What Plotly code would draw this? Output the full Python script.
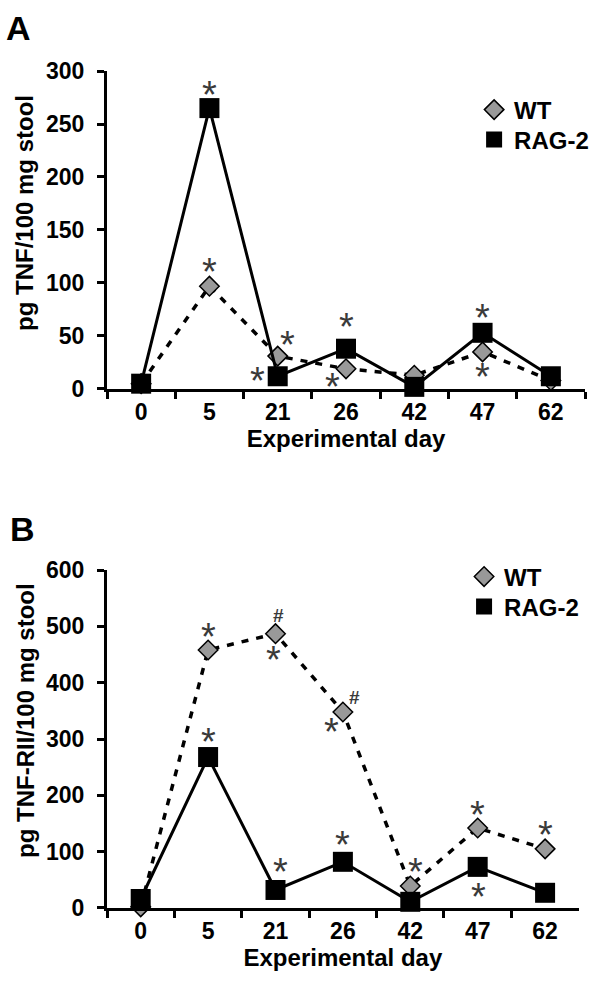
import plotly.graph_objects as go

# ---------------- data ----------------
days = ["0", "5", "21", "26", "42", "47", "62"]

tnf_wt = [5, 97, 31, 19, 13, 35, 8]
tnf_rag = [5, 265, 12, 38, 2, 53, 12]

tnfr_wt = [2, 458, 487, 348, 39, 142, 105]
tnfr_rag = [16, 268, 32, 82, 11, 73, 27]

ticks_a = [0, 50, 100, 150, 200, 250, 300]
ticks_b = [0, 100, 200, 300, 400, 500, 600]

# significance marks: (panel, series, day, symbol, dx px, dy px)
marks = [
    ("A", "rag", "5", "*", 0, 18),
    ("A", "wt", "5", "*", 0, 19),
    ("A", "wt", "21", "*", 10, 16),
    ("A", "rag", "21", "*", -20, 0),
    ("A", "rag", "26", "*", 0, 27),
    ("A", "wt", "26", "*", -14, -13),
    ("A", "rag", "47", "*", 0, 20),
    ("A", "wt", "47", "*", 0, -20),
    ("B", "wt", "5", "*", 0, 18),
    ("B", "wt", "21", "#", 3, 19),
    ("B", "wt", "21", "*", -2, -21),
    ("B", "wt", "26", "#", 12, 15),
    ("B", "wt", "26", "*", -11, -15),
    ("B", "rag", "5", "*", 0, 20),
    ("B", "rag", "21", "*", 5, 23),
    ("B", "rag", "26", "*", 0, 22),
    ("B", "wt", "42", "*", 5, 19),
    ("B", "wt", "47", "*", 0, 18),
    ("B", "rag", "47", "*", 1, -25),
    ("B", "wt", "62", "*", 0, 19),
]

FONT = "Liberation Sans, Arial, sans-serif"
WT_FILL = "#999999"

fig = go.Figure()

def add_series(y, xa, ya, name, legend, wt):
    if wt:
        line = dict(color="black", width=3.5, dash="7px,8px")
        marker = dict(symbol="diamond", size=15, color=WT_FILL,
                      line=dict(color="black", width=1.5))
    else:
        line = dict(color="black", width=3)
        marker = dict(symbol="square", size=20, color="black",
                      line=dict(color="black", width=0))
    fig.add_trace(go.Scatter(x=days, y=y, xaxis=xa, yaxis=ya, mode="lines",
                             line=line, showlegend=False, cliponaxis=False,
                             hoverinfo="skip"))
    fig.add_trace(go.Scatter(x=days, y=y, xaxis=xa, yaxis=ya, mode="markers",
                             marker=marker, name=name, legend=legend,
                             showlegend=True, cliponaxis=False))

add_series(tnf_wt, "x", "y", "WT", "legend", True)
add_series(tnf_rag, "x", "y", "RAG-2", "legend2", False)
add_series(tnfr_wt, "x2", "y2", "WT", "legend3", True)
add_series(tnfr_rag, "x2", "y2", "RAG-2", "legend4", False)

series = {("A", "wt"): tnf_wt, ("A", "rag"): tnf_rag,
          ("B", "wt"): tnfr_wt, ("B", "rag"): tnfr_rag}

for panel, s, d, sym, dx, dy in marks:
    vals = series[(panel, s)]
    i = days.index(d)
    yv = vals[i]
    if sym == "*":
        fnt = dict(family=FONT, size=38, color="#3a3a3a")
        corr = -5
    else:
        fnt = dict(family=FONT, size=19, color="#3a3a3a", weight="bold")
        corr = -1
    fig.add_annotation(x=i, y=yv, xref="x" if panel == "A" else "x2",
                       yref="y" if panel == "A" else "y2",
                       text=sym, showarrow=False, xshift=dx, yshift=dy + corr,
                       font=fnt)

axis_common = dict(showline=True, linecolor="black", linewidth=3,
                   ticks="outside", tickcolor="black", tickwidth=3, ticklen=7,
                   showgrid=False, zeroline=False, automargin=False,
                   tickfont=dict(family=FONT, size=23, color="black", weight="bold"))

title_font = dict(family=FONT, size=24, color="black")

def leg(x, y):
    return dict(x=x, y=y, xanchor="left", yanchor="middle",
                xref="paper", yref="paper", bgcolor="rgba(0,0,0,0)",
                font=dict(family=FONT, size=24, color="black", weight="bold"))

fig.update_layout(
    width=600, height=988,
    paper_bgcolor="white", plot_bgcolor="white",
    margin=dict(l=107, r=15, t=71, b=80, autoexpand=False),
    font=dict(family=FONT, color="black"),
    showlegend=True,
    xaxis=dict(**axis_common, type="category", categoryorder="array",
               categoryarray=days, tickson="boundaries", range=[-0.5, 6.5],
               domain=[0, 1], anchor="y",
               title=dict(text="<b>Experimental day</b>", standoff=6, font=title_font)),
    yaxis=dict(**axis_common, range=[0, 300], tickvals=ticks_a,
               domain=[0.6201, 1], anchor="x", ticklabelstandoff=8),
    xaxis2=dict(**axis_common, type="category", categoryorder="array",
                categoryarray=days, tickson="boundaries", range=[-0.5, 6.5],
                domain=[0, 0.987], anchor="y2",
                title=dict(text="<b>Experimental day</b>", standoff=6, font=title_font)),
    yaxis2=dict(**axis_common, range=[0, 600], tickvals=ticks_b,
                domain=[0, 0.4038], anchor="x2", ticklabelstandoff=8),
    legend=leg(0.768, 0.9534),
    legend2=leg(0.768, 0.9176),
    legend3=leg(0.747, 0.3955),
    legend4=leg(0.747, 0.3596),
)

# y-axis titles (placed as rotated texts, centred as in the reference)
fig.add_annotation(text="<b>pg TNF/100 mg stool</b>", textangle=-90,
                   x=(25 - 107) / 478, y=1 - (213 - 71) / 837,
                   xref="paper", yref="paper", xanchor="center", yanchor="middle",
                   showarrow=False, font=title_font)
fig.add_annotation(text="<b>pg TNF-RII/100 mg stool</b>", textangle=-90,
                   x=(25 - 107) / 478, y=1 - (721 - 71) / 837,
                   xref="paper", yref="paper", xanchor="center", yanchor="middle",
                   showarrow=False, font=title_font)

fig.add_annotation(text="<b>A</b>", x=-0.215, y=1.076, xref="paper", yref="paper",
                   xanchor="left", yanchor="top", showarrow=False,
                   font=dict(family=FONT, size=34, color="black"))
fig.add_annotation(text="<b>B</b>", x=-0.208, y=0.478, xref="paper", yref="paper",
                   xanchor="left", yanchor="top", showarrow=False,
                   font=dict(family=FONT, size=34, color="black"))

fig.write_html("out.html", config={"displayModeBar": False},
               post_script="document.body.style.margin='0px';document.body.style.padding='0px';")
